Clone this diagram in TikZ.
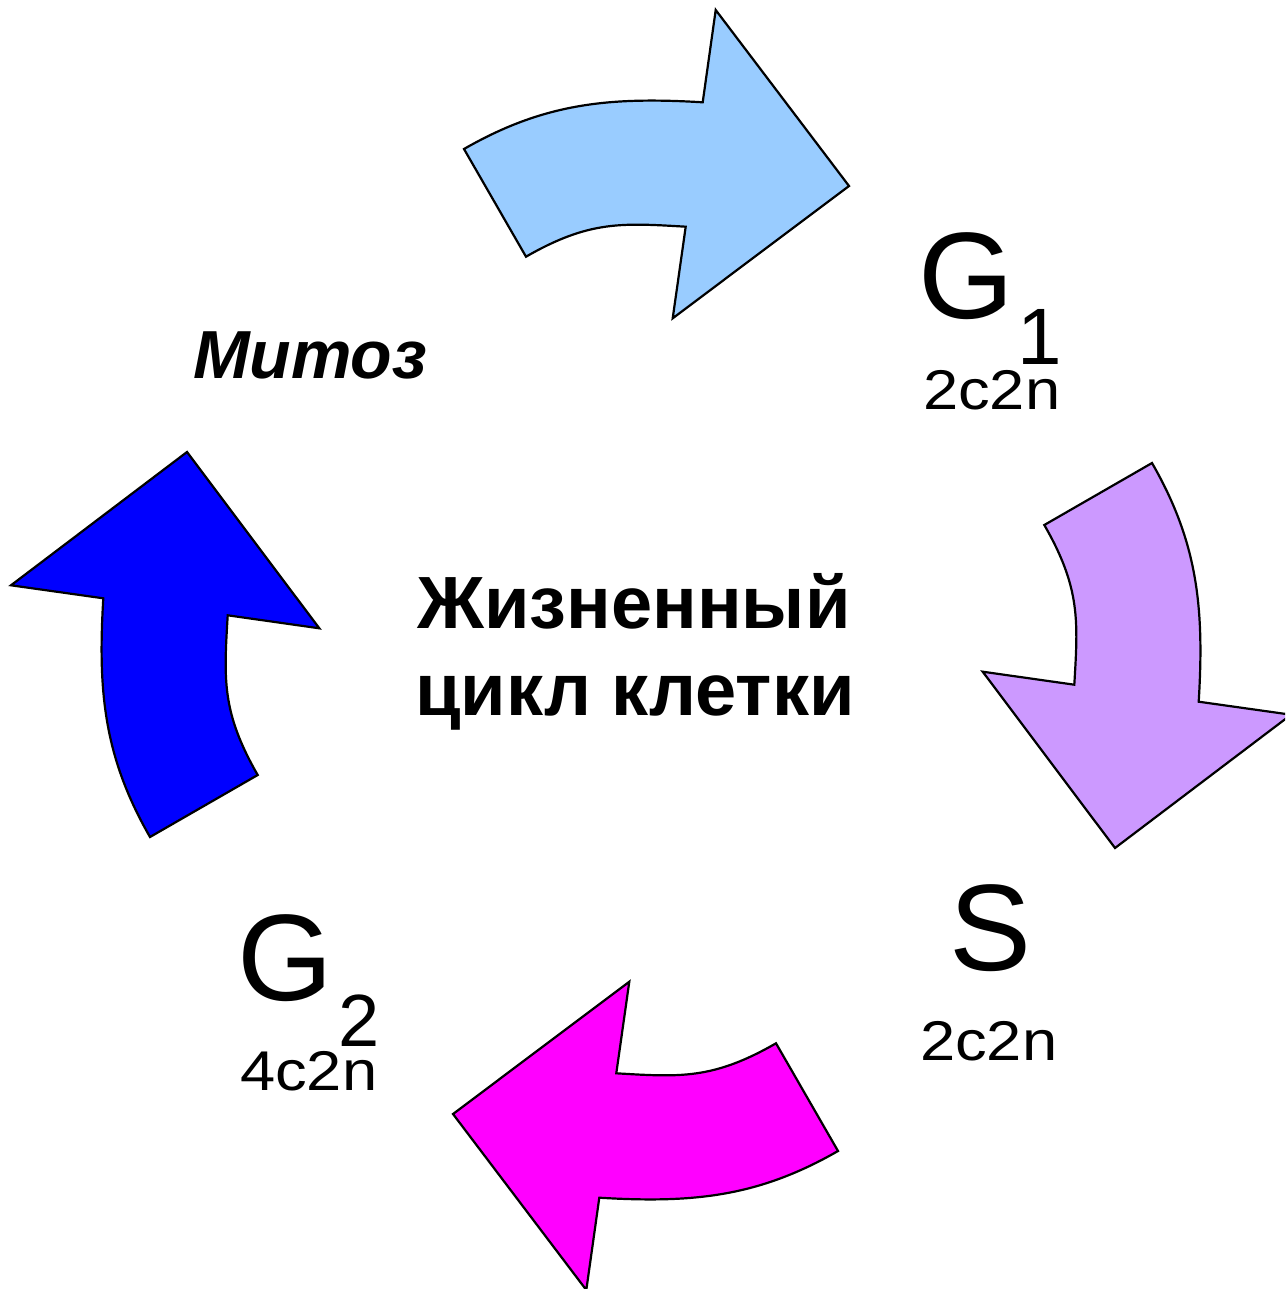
\documentclass[tikz,border=0pt]{standalone}
\usepackage{fontspec}
\setmainfont{Liberation Sans}
\definecolor{arrowA}{HTML}{99CCFF}
\definecolor{arrowB}{HTML}{CC99FF}
\definecolor{arrowC}{HTML}{FF00FF}
\definecolor{arrowD}{HTML}{0000FF}
\newcommand\wideploidy[1]{\scalebox{1.13}[1]{\fontsize{56}{56}\selectfont #1}}
\begin{document}
\begin{tikzpicture}[x=1pt,y=-1pt,
  arrowshape/.style={draw=black, line width=2.2pt, line join=miter},
  lbl/.style={inner sep=0pt, outer sep=0pt, anchor=base west},
  big/.style={font=\fontsize{123}{123}\selectfont},
  title/.style={inner sep=0pt, anchor=base, font=\fontsize{74}{74}\selectfont\bfseries}]
\clip (0,0) rectangle (1285,1289);
\foreach \ang/\col in {0/arrowA,-90/arrowB,180/arrowC,90/arrowD}{
  \draw[arrowshape, fill=\col, rotate around={\ang:(651,650)}]
    (464,149) .. controls (544,103) and (609.3,96.7) .. (702.7,102.3)
    -- (715.7,10) -- (849,186) -- (672.7,318.3) -- (685.7,226.7)
    .. controls (622.3,223) and (589.3,220.3) .. (526,256.7) -- cycle;
}
% G1
\node[lbl, big] (g1) at (918,318) {G};
\node[lbl, font=\fontsize{80}{80}\selectfont] (g1s) at (1017,364) {1};
\node[lbl] (g1p) at (923,409) {\wideploidy{2c2n}};
% S
\node[lbl, big] (s) at (949,970) {S};
\node[lbl] (sp) at (920,1060) {\wideploidy{2c2n}};
% G2
\node[lbl, big] (g2) at (237,1000) {G};
\node[lbl, font=\fontsize{74}{74}\selectfont] (g2s) at (338,1046) {2};
\node[lbl] (g2p) at (240,1090) {\wideploidy{4c2n}};
% Mitosis
\node[inner sep=0pt, anchor=base, font=\fontsize{68}{68}\selectfont\bfseries\itshape] (mit) at (310,378) {Митоз};
% center
\node[title] (t1) at (634,628) {Жизненный};
\node[title] (t2) at (635,715) {цикл клетки};
\end{tikzpicture}
\end{document}
